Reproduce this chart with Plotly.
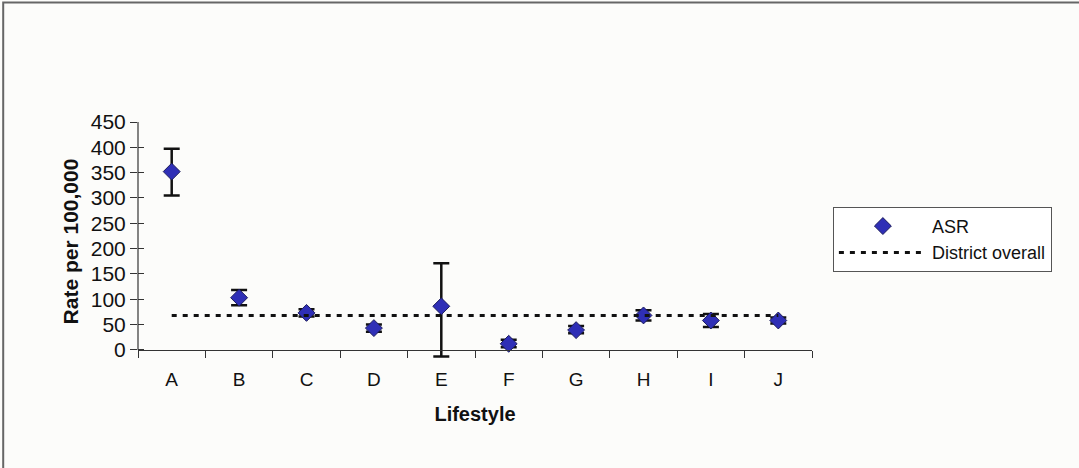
import plotly.graph_objects as go

# Age-standardised rates by lifestyle group, with confidence limits
lifestyles = ["A", "B", "C", "D", "E", "F", "G", "H", "I", "J"]
asr = [352, 103, 73, 43, 86, 12, 39, 68, 58, 58]
ci_upper = [397, 118, 80, 50, 171, 20, 47, 78, 71, 64]
ci_lower = [305, 88, 66, 36, -13, 5, 33, 58, 45, 52]
district_overall = [68, 68, 68, 68, 68, 68, 68, 68, 68, 68]

y_ticks = [0, 50, 100, 150, 200, 250, 300, 350, 400, 450]

err_plus = [u - v for u, v in zip(ci_upper, asr)]
err_minus = [v - l for v, l in zip(asr, ci_lower)]

# value range leaves a little room under zero so the lower limit of E stays visible;
# the category axis itself sits at zero
Y_MIN, Y_MAX = -22, 450
zero_pos = (0 - Y_MIN) / (Y_MAX - Y_MIN)

FONT = "Liberation Sans, Arial, sans-serif"
AXIS_COLOR = "#333333"

fig = go.Figure()

fig.add_trace(go.Scatter(
    x=lifestyles, y=asr, name="ASR", mode="markers", cliponaxis=False,
    marker=dict(symbol="diamond", size=13, color="#2f2fb6",
                line=dict(color="#1c1c5c", width=1)),
    error_y=dict(type="data", symmetric=False, array=err_plus,
                 arrayminus=err_minus, color="#111111", thickness=2.5, width=8),
))

fig.add_trace(go.Scatter(
    x=lifestyles, y=district_overall, name="District overall", mode="lines",
    line=dict(color="#111111", width=3, dash="5px,6px"),
))

# invisible companion trace so the inner tick marks of the value axis are drawn
fig.add_trace(go.Scatter(
    x=lifestyles, y=asr, yaxis="y2", mode="markers", showlegend=False,
    marker=dict(opacity=0), hoverinfo="skip",
))

fig.update_layout(
    width=1079, height=468,
    margin=dict(l=138, r=267, t=122, b=107),
    paper_bgcolor="#fcfcfa", plot_bgcolor="rgba(0,0,0,0)",
    font=dict(family=FONT, color="#111111"),
    xaxis=dict(
        type="category", range=[-0.5, 9.5], showgrid=False, zeroline=False,
        anchor="free", position=zero_pos,
        showline=True, linecolor=AXIS_COLOR, linewidth=1.2,
        ticks="outside", tickson="boundaries", ticklen=7, tickcolor=AXIS_COLOR,
        tickfont=dict(size=19, family=FONT), ticklabelstandoff=12,
        title=dict(text="<b>Lifestyle</b>", font=dict(size=20, family=FONT), standoff=18),
    ),
    yaxis=dict(
        range=[Y_MIN, Y_MAX], tickvals=y_ticks, showgrid=False, zeroline=False,
        showline=False,
        ticks="outside", ticklen=7, tickcolor=AXIS_COLOR,
        tickfont=dict(size=21, family=FONT),
        title=dict(text="<b>Rate per 100,000</b>", font=dict(size=21, family=FONT), standoff=6),
    ),
    yaxis2=dict(
        range=[Y_MIN, Y_MAX], tickvals=y_ticks, overlaying="y", side="left",
        showgrid=False, zeroline=False, showline=False, showticklabels=False,
        ticks="inside", ticklen=6, tickcolor=AXIS_COLOR,
    ),
    legend=dict(
        x=1.031, y=0.645, xanchor="left", yanchor="top",
        bgcolor="#ffffff", bordercolor="#555555", borderwidth=1,
        font=dict(size=18, family=FONT), itemwidth=88, tracegroupgap=0,
    ),
    shapes=[
        # value axis line, running from zero to the top of the scale
        dict(type="line", xref="paper", yref="paper", x0=0, x1=0, y0=zero_pos, y1=1,
             line=dict(color=AXIS_COLOR, width=1.2)),
        # outer chart frame
        dict(type="rect", xref="paper", yref="paper",
             x0=-0.2, x1=1.45, y0=-0.6, y1=1.5,
             line=dict(color="#666666", width=2), fillcolor="rgba(0,0,0,0)"),
    ],
)

fig.write_html("out.html")
